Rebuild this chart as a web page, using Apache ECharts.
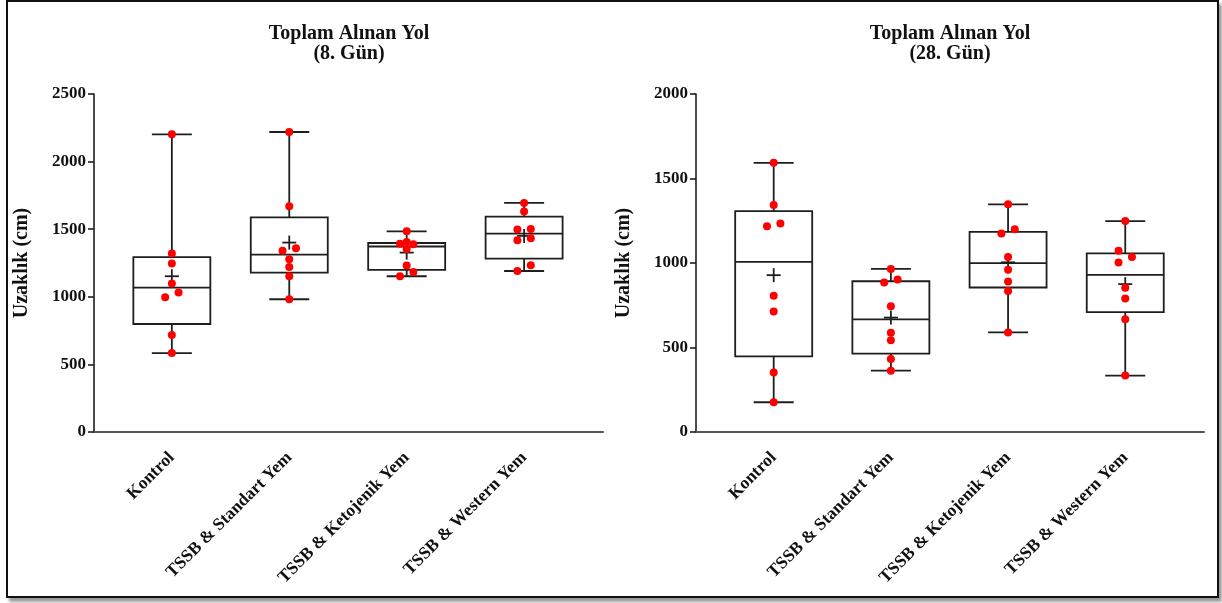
<!DOCTYPE html>
<html>
<head>
<meta charset="utf-8">
<script src="https://cdn.jsdelivr.net/npm/echarts@6/dist/echarts.min.js"></script>
<style>
  html, body { margin: 0; padding: 0; background: #fff; width: 1222px; height: 603px; overflow: hidden; }
  #frame { position: absolute; left: 6px; top: 0; width: 1209px; height: 594px; border: 2px solid #111; box-shadow: 3px 4px 3px #9a9a9a; background: #fff; }
  #chart { position: absolute; left: 0; top: 0; width: 1222px; height: 603px; }
</style>
</head>
<body>
<div id="frame"></div>
<div id="chart"></div>
<script>
// Groups shown on both panels
const categories = ['Kontrol', 'TSSB & Standart Yem', 'TSSB & Ketojenik Yem', 'TSSB & Western Yem'];

// Day 8: individual animals (cm)
const day8Kontrol   = [2202, 1320, 1246, 1098, 1031, 996, 718, 584];
const day8Standart  = [2219, 1669, 1359, 1341, 1277, 1220, 1152, 982];
const day8Ketojenik = [1484, 1405, 1393, 1388, 1353, 1231, 1183, 1152];
const day8Western   = [1694, 1630, 1502, 1497, 1433, 1418, 1233, 1191];
// Day 8 box summary: min, Q1, median, Q3, max
const day8Box = [
  [584, 799, 1068, 1294, 2202],
  [982, 1179, 1312, 1588, 2219],
  [1152, 1199, 1372, 1398, 1484],
  [1191, 1282, 1467, 1593, 1694]
];
const day8Mean = [1152, 1401, 1327, 1450];

// Day 28: individual animals (cm)
const day28Kontrol   = [1593, 1343, 1234, 1218, 806, 713, 352, 176];
const day28Standart  = [965, 902, 885, 744, 588, 543, 432, 363];
const day28Ketojenik = [1347, 1199, 1175, 1035, 960, 891, 835, 589];
const day28Western   = [1248, 1072, 1036, 1003, 853, 790, 667, 334];
// Day 28 box summary: min, Q1, median, Q3, max
const day28Box = [
  [176, 448, 1007, 1307, 1593],
  [363, 464, 667, 892, 965],
  [589, 855, 999, 1184, 1347],
  [334, 709, 930, 1057, 1248]
];
const day28Mean = [928, 677, 1004, 875];

// Axis ranges
const day8YMax = 2500;
const day28YMax = 2000;
const yStep = 500;

const SERIF = "'Liberation Serif', 'Times New Roman', serif";
const INK = '#1e1e1e';
const LW = 1.8;
const BOX_HALF = 38.5;
const CAP = 20;
const PLUS = 7;
const STEP = 6.7;   // horizontal spacing of side-by-side dots
const GAP = 6.3;    // dots closer than this collide

function renderBox(params, api) {
  const x = api.value(0);
  const pt = k => api.coord([x, api.value(k)]);
  const cx = pt(1)[0];
  const yMin = pt(1)[1], yQ1 = pt(2)[1], yMed = pt(3)[1], yQ3 = pt(4)[1], yMax = pt(5)[1], yMean = pt(6)[1];
  const line = (x1, y1, x2, y2) => ({ type: 'line', shape: { x1, y1, x2, y2 }, style: { stroke: INK, lineWidth: LW } });
  return {
    type: 'group',
    children: [
      { type: 'rect', shape: { x: cx - BOX_HALF, y: yQ3, width: BOX_HALF * 2, height: yQ1 - yQ3 },
        style: { fill: null, stroke: INK, lineWidth: LW } },
      line(cx - BOX_HALF, yMed, cx + BOX_HALF, yMed),
      line(cx, yQ3, cx, yMax), line(cx - CAP, yMax, cx + CAP, yMax),
      line(cx, yQ1, cx, yMin), line(cx - CAP, yMin, cx + CAP, yMin),
      line(cx - PLUS, yMean, cx + PLUS, yMean), line(cx, yMean - PLUS, cx, yMean + PLUS)
    ]
  };
}

function boxData(box, mean) {
  return box.map((b, i) => [i + 1, ...b, mean[i]]);
}

function rawData(groups) {
  return groups.flatMap((vals, g) => vals.map(v => [g + 1, v]));
}

function xAxisFor(gridIndex) {
  return {
    type: 'value', gridIndex, min: 0.337, max: 4.672,
    splitLine: { show: false },
    axisTick: { show: false },
    axisLine: { onZero: false, lineStyle: { color: '#555', width: 2 } },
    axisLabel: {
      customValues: [1, 2, 3, 4],
      formatter: v => categories[Math.round(v) - 1] || '',
      rotate: 45, margin: 23,
      fontFamily: SERIF, fontWeight: 'bold', fontSize: 17.5, color: '#111'
    }
  };
}

function yAxisFor(gridIndex, max) {
  return {
    type: 'value', gridIndex, min: 0, max, interval: yStep,
    name: 'Uzaklık (cm)', nameLocation: 'middle', nameGap: 62,
    nameTextStyle: { fontFamily: SERIF, fontWeight: 'bold', fontSize: 20, color: '#111' },
    splitLine: { show: false },
    axisLine: { show: true, onZero: false, lineStyle: { color: INK, width: 1.6 } },
    axisTick: { show: true, length: 6, lineStyle: { color: INK, width: 1.6 } },
    axisLabel: { margin: 8, formatter: v => String(v), fontFamily: SERIF, fontWeight: 'bold', fontSize: 17, color: '#111' }
  };
}

function titleFor(text, center) {
  return {
    text, left: center, top: 24, textAlign: 'center', padding: 0,
    textStyle: { fontFamily: SERIF, fontWeight: 'bold', fontSize: 20, lineHeight: 20, color: '#111' }
  };
}

const day8Groups = [day8Kontrol, day8Standart, day8Ketojenik, day8Western];
const day28Groups = [day28Kontrol, day28Standart, day28Ketojenik, day28Western];

const chart = echarts.init(document.getElementById('chart'), null, { renderer: 'canvas' });

chart.setOption({
  animation: false,
  backgroundColor: 'transparent',
  title: [titleFor('Toplam Alınan Yol\n(8. Gün)', 349), titleFor('Toplam Alınan Yol\n(28. Gün)', 950)],
  grid: [
    { left: 94, top: 94, width: 509, height: 338 },
    { left: 696, top: 94, width: 508, height: 338 }
  ],
  xAxis: [xAxisFor(0), xAxisFor(1)],
  yAxis: [yAxisFor(0, day8YMax), yAxisFor(1, day28YMax)],
  series: [
    { id: 'box8', type: 'custom', xAxisIndex: 0, yAxisIndex: 0, renderItem: renderBox,
      encode: { x: 0, y: [1, 2, 3, 4, 5, 6] }, data: boxData(day8Box, day8Mean), z: 2 },
    { id: 'box28', type: 'custom', xAxisIndex: 1, yAxisIndex: 1, renderItem: renderBox,
      encode: { x: 0, y: [1, 2, 3, 4, 5, 6] }, data: boxData(day28Box, day28Mean), z: 2 },
    { id: 'dots8', type: 'scatter', xAxisIndex: 0, yAxisIndex: 0, symbolSize: 8,
      itemStyle: { color: '#ff0000', opacity: 1 }, data: rawData(day8Groups), z: 3 },
    { id: 'dots28', type: 'scatter', xAxisIndex: 1, yAxisIndex: 1, symbolSize: 8,
      itemStyle: { color: '#ff0000', opacity: 1 }, data: rawData(day28Groups), z: 3 }
  ]
});

// Spread dots that would overlap into a small beeswarm (pixel space)
function swarmSides(ys) {
  const order = ys.map((_, i) => i).sort((a, b) => ys[b] - ys[a]);
  const side = ys.map(() => 0);
  const placed = [];
  const clash = (i, s) => placed.some(j => Math.hypot((side[j] - s) * STEP, ys[j] - ys[i]) < GAP);
  order.forEach(i => {
    side[i] = [0, 1, -1, 2, -2].find(s => !clash(i, s));
    if (side[i] === undefined) side[i] = 0;
    placed.push(i);
  });
  // a centred dot touching a single side dot moves opposite to it, so the pair sits symmetric
  order.forEach(i => {
    if (side[i] !== 0) return;
    const near = order.filter(j => j !== i && Math.abs(ys[j] - ys[i]) < GAP);
    if (near.length === 1 && Math.abs(side[near[0]]) === 1) {
      const s = -side[near[0]];
      const busy = order.some(j => j !== i && side[j] === s && Math.abs(ys[j] - ys[i]) < GAP);
      if (!busy) side[i] = s;
    }
  });
  return side;
}

function swarmData(gridIndex, groups) {
  return groups.flatMap((vals, g) => {
    const ys = vals.map(v => chart.convertToPixel({ gridIndex }, [g + 1, v])[1]);
    const sides = swarmSides(ys);
    return vals.map((v, k) => ({ value: [g + 1, v], symbolOffset: [sides[k] * STEP, 0] }));
  });
}

chart.setOption({
  series: [
    { id: 'dots8', data: swarmData(0, day8Groups) },
    { id: 'dots28', data: swarmData(1, day28Groups) }
  ]
});
</script>
</body>
</html>
